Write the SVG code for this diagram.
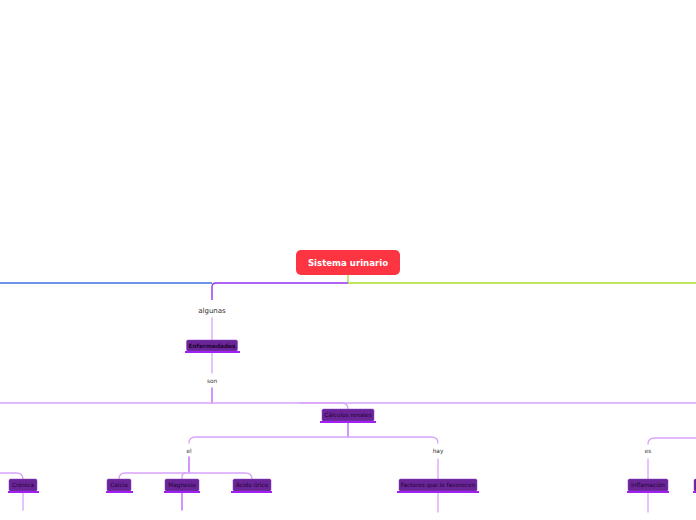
<svg xmlns="http://www.w3.org/2000/svg" width="696" height="520" viewBox="0 0 696 520">
<style>
.bg{fill:#ffffff}
.c{fill:none;stroke-width:1.3;stroke-linecap:round}
.lt{stroke:#d9a3fb}
.br{stroke:#b75cff}
.box{fill:#6a2598;stroke:#8b45c0;stroke-width:0.5}
.ul{fill:#a11ff2}
.bt{font-family:"DejaVu Sans",sans-serif;font-size:5.8px;fill:#1e0630;text-anchor:middle}
.lb{font-family:"DejaVu Sans",sans-serif;font-size:5.8px;fill:#333;text-anchor:middle}
</style>
<rect class="bg" width="696" height="520"/>
<g id="connectors">
  <path d="M348 275 V283" stroke="#9be02a" stroke-width="1.2" fill="none"/>
  <path d="M0 283 H212" stroke="#3d6fe0" stroke-width="1.4" fill="none"/>
  <path d="M348 283 H216 Q212 283 212 287 V300" stroke="#9433f0" stroke-width="1.4" fill="none"/>
  <path d="M348 283 H696" stroke="#a8de2a" stroke-width="1.4" fill="none"/>
  <path class="c lt" d="M212 318 V340"/>
  <path class="c lt" d="M212 353 V373"/>
  <path class="c br" d="M212 388 V403"/>
  <path class="c lt" d="M0 403 H696"/>
  <path class="c lt" d="M300 403 H341 Q348 403 348 409"/>
  <path class="c br" d="M348 423 V437"/>
  <path class="c lt" d="M348 437 H196 Q189 437 189 443"/>
  <path class="c lt" d="M348 437 H431 Q438 437 438 443"/>
  <path class="c lt" d="M696 438 H655 Q648 438 648 444"/>
  <path class="c br" d="M189 457 V473"/>
  <path class="c lt" d="M189 473 H125 Q119 473 119 479"/>
  <path class="c lt" d="M189 473 H245 Q252 473 252 479"/>
  <path class="c lt" d="M186 473 Q182 473 182 477 V479"/>
  <path class="c lt" d="M0 473 H16 Q23 473 23 479"/>
  <path class="c lt" d="M23 493 V510"/>
  <path class="c br" d="M182 493 V510"/>
  <path class="c lt" d="M438 459 V479"/>
  <path class="c lt" d="M438 493 V512"/>
  <path class="c lt" d="M648 459 V479"/>
  <path class="c lt" d="M648 493 V512"/>
</g>
<g id="root">
  <rect x="296" y="250" width="104" height="25" rx="5" fill="#fd3441"/>
  <text x="348" y="265.5" font-family="DejaVu Sans,sans-serif" font-weight="bold" font-size="8.6px" fill="#ffffff" text-anchor="middle">Sistema urinario</text>
</g>
<g id="lbl-algunas"><text x="212" y="313" font-family="DejaVu Sans,sans-serif" font-size="7px" fill="#333" text-anchor="middle">algunas</text></g>
<g id="enfermedades">
  <rect class="box" x="186.5" y="340" width="51" height="11" rx="1.5"/>
  <rect class="ul" x="185" y="351" width="55" height="2"/>
  <text class="bt" x="212" y="347.8" font-weight="bold" font-size="5.4px">Enfermedades</text>
</g>
<g id="lbl-son"><text class="lb" x="212" y="383">son</text></g>
<g id="calculos">
  <rect class="box" x="322" y="409" width="52" height="12" rx="1.5"/>
  <rect class="ul" x="320" y="421" width="56" height="2"/>
  <text class="bt" x="348" y="417">Cálculos renales</text>
</g>
<g id="lbl-el"><text class="lb" x="189" y="453">el</text></g>
<g id="lbl-hay"><text class="lb" x="438" y="453">hay</text></g>
<g id="lbl-es"><text class="lb" x="648" y="453">es</text></g>
<g id="cronica">
  <rect class="box" x="9" y="479" width="28" height="12" rx="1.5"/>
  <rect class="ul" x="8" y="491" width="31" height="2"/>
  <text class="bt" x="23" y="487">Crónica</text>
</g>
<g id="calcio">
  <rect class="box" x="107" y="479" width="24" height="12" rx="1.5"/>
  <rect class="ul" x="106" y="491" width="27" height="2"/>
  <text class="bt" x="119" y="487">Calcio</text>
</g>
<g id="magnesio">
  <rect class="box" x="165" y="479" width="34" height="12" rx="1.5"/>
  <rect class="ul" x="164" y="491" width="36" height="2"/>
  <text class="bt" x="182" y="487">Magnesio</text>
</g>
<g id="acido">
  <rect class="box" x="233" y="479" width="38" height="12" rx="1.5"/>
  <rect class="ul" x="231" y="491" width="41" height="2"/>
  <text class="bt" x="252" y="487">Ácido úrico</text>
</g>
<g id="factores">
  <rect class="box" x="399" y="479" width="78" height="12" rx="1.5"/>
  <rect class="ul" x="397" y="491" width="82" height="2"/>
  <text class="bt" x="438" y="487">Factores que lo favorecen</text>
</g>
<g id="inflamacion">
  <rect class="box" x="628" y="479" width="40" height="12" rx="1.5"/>
  <rect class="ul" x="627" y="491" width="42" height="2"/>
  <text class="bt" x="648" y="487">Inflamación</text>
</g>
<g id="right-node">
  <rect class="box" x="694" y="479" width="20" height="12" rx="1.5"/>
  <rect class="ul" x="693" y="491" width="22" height="2"/>
</g>
</svg>
